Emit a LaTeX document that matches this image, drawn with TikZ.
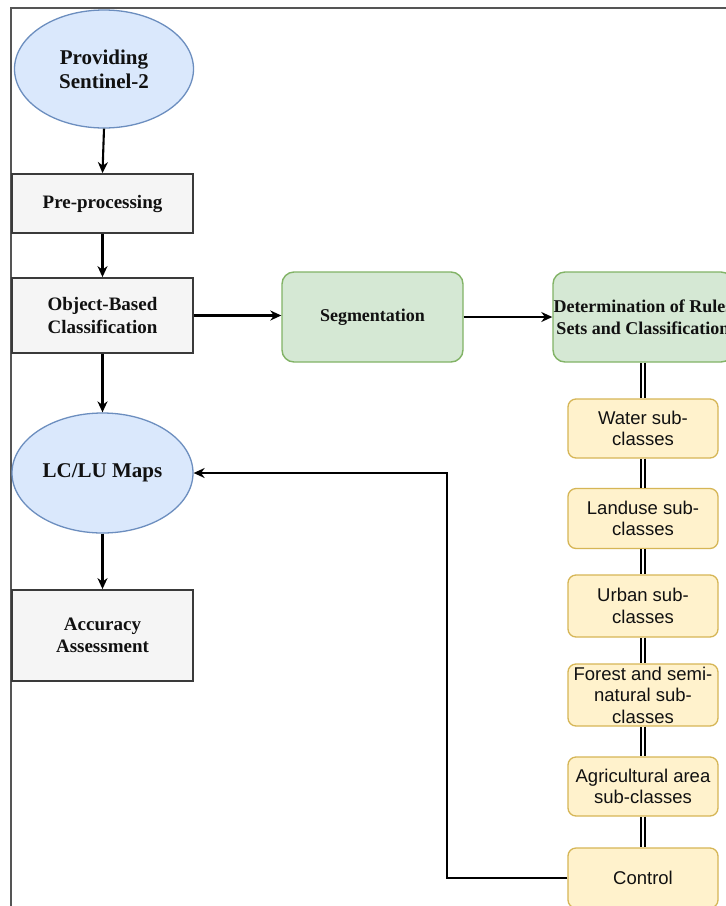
\documentclass[tikz,border=0pt]{standalone}
\usepackage{fontspec}
\setmainfont{Liberation Serif}
\setsansfont{Liberation Sans}
\usetikzlibrary{shapes.geometric,arrows.meta}
\definecolor{blueF}{HTML}{DAE8FC}
\definecolor{blueD}{HTML}{6C8EBF}
\definecolor{grayF}{HTML}{F5F5F5}
\definecolor{grayD}{HTML}{3A3A3A}
\definecolor{greenF}{HTML}{D5E8D4}
\definecolor{greenD}{HTML}{82B366}
\definecolor{yelF}{HTML}{FFF2CC}
\definecolor{yelD}{HTML}{D6B656}
\definecolor{frameC}{HTML}{555555}
\definecolor{txt}{HTML}{111111}
\begin{document}
\begin{tikzpicture}[x=1pt,y=-1pt,
  ell/.style={ellipse, draw=blueD, fill=blueF, line width=1.3pt, inner sep=0pt, align=center, text=txt,
    font=\fontsize{21}{24}\selectfont\bfseries},
  gbox/.style={rectangle, draw=grayD, fill=grayF, line width=1.8pt, minimum width=181pt, inner sep=0pt, align=center, text=txt,
    font=\fontsize{19}{22.5}\selectfont\bfseries},
  grbox/.style={rectangle, rounded corners=12pt, draw=greenD, fill=greenF, line width=1.4pt, minimum width=181pt, minimum height=90pt, inner sep=0pt, align=center, text=txt,
    font=\fontsize{18}{22.5}\selectfont\bfseries},
  ybox/.style={rectangle, rounded corners=8pt, draw=yelD, fill=yelF, line width=1.3pt, minimum width=150pt, inner sep=0pt, align=center, text=txt,
    font=\sffamily\fontsize{18.5}{21.5}\selectfont},
  arr/.style={-{Stealth[length=11pt,width=10pt]}, line width=2.1pt, black},
  dbl/.style={double, double distance=2.8pt, line width=1.7pt, draw=black}]
\useasboundingbox (0,0) rectangle (726,906);
\clip (0,0) rectangle (726,906);
\fill[white] (0,0) rectangle (726,906);
% frame
\draw[line width=2.2pt, frameC] (11,8) rectangle (760,960);

% left column
\node[ell, minimum width=179pt, minimum height=118pt] (prov) at (104,69) {Providing\\Sentinel-2};
\node[gbox, minimum height=59pt] (pre) at (102.5,203.5) {Pre-processing};
\node[gbox, minimum height=75pt] (obc) at (102.5,315.5) {Object-Based\\Classification};
\node[ell, minimum width=181pt, minimum height=120pt] (lclu) at (102.5,473) {LC/LU Maps};
\node[gbox, minimum height=91pt] (acc) at (102.5,635.5) {Accuracy\\Assessment};

% green boxes
\node[grbox] (seg) at (372.5,317) {Segmentation};
\node[grbox, minimum width=180pt] (det) at (643,317) {Determination of Rules\\Sets and Classification};

% yellow boxes
\node[ybox, minimum height=59pt] (water) at (643,428.5) {Water sub-\\classes};
\node[ybox, minimum height=60pt] (land) at (643,518.5) {Landuse sub-\\classes};
\node[ybox, minimum height=62pt] (urban) at (643,606) {Urban sub-\\classes};
\node[ybox, minimum height=62pt] (forest) at (643,695) {Forest and semi-\\natural sub-\\classes};
\node[ybox, minimum height=59pt] (agri) at (643,786.5) {Agricultural area\\sub-classes};
\node[ybox, minimum height=60pt] (ctrl) at (643,878) {Control};

\coordinate (cr) at (447,473);

% connectors
\draw[arr] (prov.south) -- (pre.north);
\draw[arr] (pre.south) -- (obc.north);
\draw[arr] (obc.south) -- (lclu.north);
\draw[arr] (lclu.south) -- (acc.north);
\draw[arr] (obc.east) -- (obc.east -| seg.west);
\draw[arr] (seg.east) -- (det.west);
\draw[arr] (ctrl.west) -| (cr) -- (lclu.east);

\draw[dbl] (det.south) -- (water.north);
\draw[dbl] (water.south) -- (land.north);
\draw[dbl] (land.south) -- (urban.north);
\draw[dbl] (urban.south) -- (forest.north);
\draw[dbl] (forest.south) -- (agri.north);
\draw[dbl] (agri.south) -- (ctrl.north);
\end{tikzpicture}
\end{document}
